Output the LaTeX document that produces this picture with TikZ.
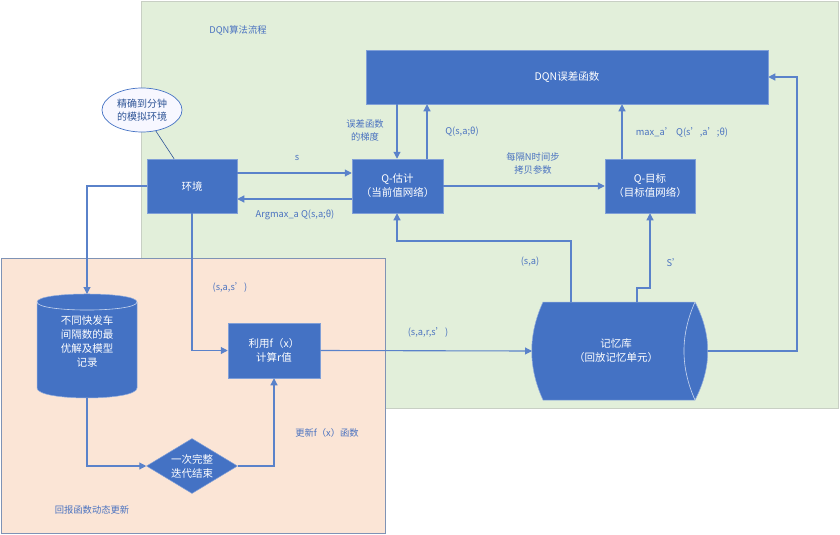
\documentclass[tikz,border=0pt]{standalone}
\usepackage{fontspec}
\setmainfont{Noto Sans CJK SC}
\usetikzlibrary{arrows.meta,shapes.geometric}
\definecolor{nodeblue}{HTML}{4472C4}
\definecolor{edgeblue}{HTML}{4A76C6}
\definecolor{lineblue}{HTML}{5A82CA}
\definecolor{txtblue}{HTML}{4A72C0}
\definecolor{greenbg}{HTML}{E2EFDA}
\definecolor{greenbd}{HTML}{C8CFC4}
\definecolor{orangebg}{HTML}{FBE5D6}
\definecolor{orangebd}{HTML}{7F93B5}
\definecolor{lightline}{HTML}{C9D6EF}
\definecolor{elltext}{HTML}{2F5597}
\tikzset{
  box/.style={draw=edgeblue!70!white,line width=0.5pt,fill=nodeblue,text=white,align=center,inner sep=0pt,font=\fontsize{10.5}{14}\selectfont},
  lbl/.style={text=txtblue,align=center,inner sep=0pt,font=\fontsize{9.3}{13}\selectfont},
  arr/.style={draw=lineblue,line width=1.1pt,-{Triangle[length=7pt,width=7pt]}},
  ln/.style={draw=lineblue,line width=1.1pt},
  ghost/.style={inner sep=0pt,text=white,align=center,font=\fontsize{10.5}{14}\selectfont}
}
\begin{document}
\begin{tikzpicture}[x=1pt,y=-1pt]
\useasboundingbox (0,0) rectangle (840,535);
% backgrounds
\fill[greenbg,draw=greenbd,line width=0.8pt] (141,1) rectangle (838,408);
\fill[orangebg,draw=orangebd,line width=0.8pt] (1,258) rectangle (385,533);

\node[lbl] (title) at (238,30) {DQN算法流程};
\node[lbl] (title2) at (92,510) {回报函数动态更新};

% main boxes
\node[box,minimum width=402pt,minimum height=54pt] (dqn) at (567,77) {DQN误差函数};
\node[box,minimum width=90pt,minimum height=54pt] (env) at (192,186) {环境};
\node[box,minimum width=91pt,minimum height=54pt] (qest) at (397.5,186) {Q-估计\\（当前值网络）};
\node[box,minimum width=90pt,minimum height=54pt] (qtar) at (650,186) {Q-目标\\（目标值网络）};
\node[box,minimum width=92pt,minimum height=55pt] (calc) at (274,350.5) {利用f（x）\\计算r值};
\node[diamond,aspect=1.65,fill=nodeblue,draw=edgeblue!70!white,line width=0.5pt,text=white,inner sep=0pt,minimum width=91pt,minimum height=55pt,align=center,font=\fontsize{10.5}{14}\selectfont] (dia) at (192,466) {一次完整\\迭代结束};
\node[ellipse,draw=nodeblue,line width=0.7pt,fill=blue!3!white,text=elltext,minimum width=80pt,minimum height=44pt,inner sep=0pt,align=center,font=\fontsize{10}{13}\selectfont] (ell) at (142,110) {精确到分钟\\的模拟环境};

% vertical cylinder
\fill[nodeblue,draw=edgeblue!60!white,line width=0.5pt] (37,302) .. controls (37,291.3) and (137,291.3) .. (137,302) -- (137,388) .. controls (137,401.3) and (37,401.3) .. (37,388) -- cycle;
\draw[lightline,line width=0.6pt] (37,302) .. controls (37,312.7) and (137,312.7) .. (137,302);
\node[ghost] (cyl) at (87,341) {不同快发车\\间隔数的最\\优解及模型\\记录};
\coordinate (cyltop) at (87,294);
\coordinate (cylbot) at (87,398);

% horizontal cylinder
\fill[nodeblue,draw=edgeblue!60!white,line width=0.5pt] (543,302) -- (695,302) .. controls (712,335) and (712,367) .. (695,400) -- (543,400) .. controls (528,367) and (528,335) .. (543,302) -- cycle;
\draw[lightline,line width=0.6pt] (695,302) .. controls (680.3,335) and (680.3,367) .. (695,400);
\node[ghost] (mem) at (616,351) {记忆库\\（回放记忆单元）};
\coordinate (memleft) at (532,351);
\coordinate (memright) at (708,351);
\coordinate (memtopa) at (571,302);
\coordinate (memtopb) at (637,302);

% connectors
\draw[ln,draw=elltext,line width=0.6pt] (ell) -- (env);
\draw[arr] (env.east |- 0,173) -- (qest.west |- 0,173);
\draw[arr] (qest.west |- 0,199) -- (env.east |- 0,199);
\draw[arr] (dqn.south -| 397,0) -- (qest.north -| 397,0);
\draw[arr] (qest.north -| 427,0) -- (dqn.south -| 427,0);
\draw[arr] (qest.east |- 0,186) -- (qtar.west |- 0,186);
\draw[arr] (qtar.north -| 622,0) -- (dqn.south -| 622,0);
\draw[arr] (memright) -- (797,351) -- (797,77) -- (dqn.east |- 0,77);
\draw[arr] (memtopa) -- (571,241) -- (397,241) -- (qest.south -| 397,0);
\draw[arr] (memtopb) -- (637,288) -- (650,288) -- (qtar.south);
\draw[arr] (env.west) -| (cyltop);
\draw[arr] (env.south) -- (192,350.5) -- (calc.west);
\draw[arr] (calc.east) -- (memleft);
\draw[arr] (cylbot) |- (dia.west);
\draw[arr] (dia.east) -| (calc.south);

% labels
\node[lbl] (ls) at (297,158) {s};
\node[lbl] (largmax) at (295,215) {Argmax\_a Q(s,a;θ)};
\node[lbl] (lgrad) at (365,130) {误差函数\\的梯度};
\node[lbl] (lq) at (462,132) {Q(s,a;θ)};
\node[lbl] (lcopy) at (533,163) {每隔N时间步\\拷贝参数};
\node[lbl] (lmax) at (682,132) {max\_a’ Q(s’,a’;θ)};
\node[lbl] (lsa) at (530,262) {(s,a)};
\node[lbl] (lsp) at (674,263) {S’};
\node[lbl] (lsas) at (230,287) {(s,a,s’)};
\node[lbl] (lsars) at (428,332) {(s,a,r,s’)};
\node[lbl] (lupd) at (327,433) {更新f（x）函数};
\end{tikzpicture}
\end{document}
